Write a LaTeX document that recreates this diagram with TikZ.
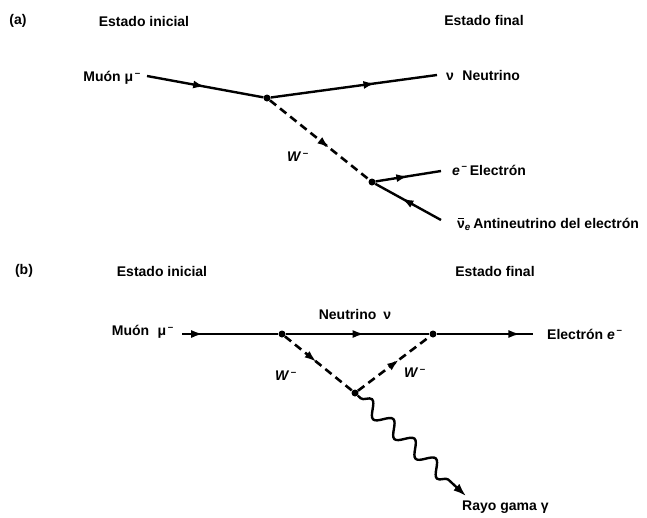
\documentclass[tikz,border=0pt]{standalone}
\usepackage{fontspec}
\setmainfont{Liberation Sans}
\usetikzlibrary{arrows.meta,decorations.markings,decorations.pathmorphing}
\newcommand\nubarsym{\leavevmode\hbox{\rlap{\hspace{0.05em}\raisebox{1.2ex}{\rule{0.45em}{0.9pt}}}ν}}
\newcommand\supminus{\textsuperscript{\,–}}
\begin{document}
\begin{tikzpicture}[x=1pt,y=-1pt,
  lbl/.style={font=\fontsize{14}{16}\selectfont\bfseries, inner sep=0pt},
  vtx/.style={circle,fill,inner sep=0pt,minimum size=7pt},
  fline/.style={line width=2.4pt},
  wline/.style={line width=2.6pt,dash pattern=on 8pt off 5pt},
  midarrow/.style={postaction={decorate},decoration={markings,mark=at position #1 with {\arrow{Latex[length=12pt,width=8pt]}}}}
]
\useasboundingbox (0,0) rectangle (647,517);

% ---------- panel (a) ----------
\node[lbl] (ta) at (18,21) {(a)};
\node[lbl] (inia) at (144,21) {Estado inicial};
\node[lbl] (fina) at (484,20) {Estado final};

\node[vtx] (a1) at (267,98) {};
\node[vtx] (a2) at (372,182) {};
\coordinate (aMs) at (147,76);
\coordinate (aNe) at (437,75);
\coordinate (aEe) at (441,171);
\coordinate (aAe) at (441,220);

\node[lbl,anchor=east] (muA) at (141,78) {Muón μ\supminus};
\node[lbl,anchor=west] (nuA) at (446,75) {ν\hspace{0.6em}Neutrino};
\node[lbl] (wA) at (298,157) {\textit{W}\supminus};
\node[lbl,anchor=west] (eA) at (452,170) {\textit{e}\supminus\,Electrón};
\node[lbl,anchor=west] (anA) at (457,224) {\nubarsym\textsubscript{\textit{e}}\,Antineutrino del electrón};

\draw[fline,midarrow=0.5] (aMs) -- (a1);
\draw[fline,midarrow=0.63] (a1) -- (aNe);
\draw[wline,midarrow=0.6] (a1) -- (a2);
\draw[fline,midarrow=0.5] (a2) -- (aEe);
\draw[fline,midarrow=0.6] (aAe) -- (a2);

% ---------- panel (b) ----------
\node[lbl] (tb) at (24,271) {(b)};
\node[lbl] (inib) at (162,271) {Estado inicial};
\node[lbl] (finb) at (495,271) {Estado final};

\node[vtx] (b1) at (282,334) {};
\node[vtx] (b2) at (433,334) {};
\node[vtx] (b3) at (355,393) {};
\coordinate (bMs) at (182,334);
\coordinate (bEe) at (533,334);
\coordinate (gEnd) at (466,496);

\node[lbl,anchor=east] (muB) at (174,332) {Muón\hspace{0.6em}μ\supminus};
\node[lbl] (nuB) at (355,314) {Neutrino\hspace{0.5em}ν};
\node[lbl,anchor=west] (eB) at (547,334) {Electrón \textit{e}\supminus};
\node[lbl] (wB1) at (286,376) {\textit{W}\supminus};
\node[lbl] (wB2) at (415,373) {\textit{W}\supminus};
\node[lbl,anchor=west] (gB) at (462,507) {Rayo gama γ};

\draw[fline,midarrow=0.22] (bMs) -- (b1);
\draw[fline,midarrow=0.55] (b1) -- (b2);
\draw[fline,midarrow=0.87] (b2) -- (bEe);
\draw[wline,midarrow=0.47] (b1) -- (b3);
\draw[wline,midarrow=0.57] (b3) -- (b2);
\draw[fline,-{Latex[length=13pt,width=9pt]},decorate,decoration={snake,segment length=29pt,amplitude=7pt,pre length=4pt,post length=14pt}] (b3) -- (gEnd);
\end{tikzpicture}
\end{document}
